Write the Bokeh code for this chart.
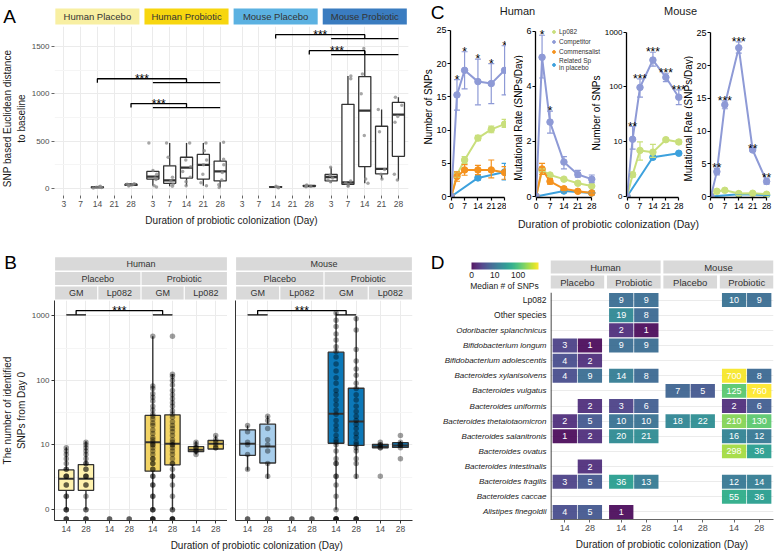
import numpy as np
from bokeh.plotting import figure
from bokeh.models import (ColumnDataSource, FixedTicker, Range1d, FactorRange, Legend,
                          LegendItem, Whisker, TeeHead, ColorBar, LinearColorMapper,
                          SingleIntervalTicker, Span)
from bokeh.layouts import row, column
from bokeh.embed import file_html
from bokeh.resources import INLINE
from bokeh.core.properties import value
from bokeh.transform import jitter, transform
from bokeh.palettes import Viridis256

# ======================= DATA =======================
# ---- Panel A: SNP based Euclidean distance to baseline ----
a_groups = ["Human Placebo", "Human Probiotic", "Mouse Placebo", "Mouse Probiotic"]
a_days = ["3", "7", "14", "21", "28"]
a_box_group = ["Human Placebo"] * 2 + ["Human Probiotic"] * 5 + ["Mouse Placebo"] * 2 + ["Mouse Probiotic"] * 5
a_box_day = ["14", "28"] + a_days + ["14", "28"] + a_days
a_box_lo = [5, 25, 30, 25, 30, 30, 10, 8, 18, 60, 20, 55, 100, 85]
a_box_q1 = [9, 32, 100, 55, 110, 100, 80, 12, 22, 80, 45, 232, 155, 340]
a_box_med = [13, 40, 125, 85, 220, 250, 180, 16, 26, 120, 65, 823, 208, 780]
a_box_q3 = [18, 46, 180, 240, 330, 360, 290, 20, 32, 148, 890, 1183, 658, 910]
a_box_hi = [24, 52, 190, 480, 480, 480, 490, 24, 36, 225, 1190, 1457, 835, 964]

a_pt_hpla_14 = [5, 10, 14, 18, 24]
a_pt_hpla_28 = [26, 34, 40, 44, 50]
a_pt_hpro_3 = [480, 190, 150, 110, 95, 30, 15]
a_pt_hpro_7 = [480, 330, 120, 80, 45, 25]
a_pt_hpro_14 = [480, 300, 230, 180, 120, 70, 30]
a_pt_hpro_21 = [480, 400, 300, 250, 150, 60, 30]
a_pt_hpro_28 = [490, 310, 250, 170, 90, 40, 10]
a_pt_mpla_14 = [8, 14, 18, 24]
a_pt_mpla_28 = [18, 24, 28, 36]
a_pt_mpro_3 = [225, 140, 110, 90, 70]
a_pt_mpro_7 = [1190, 1160, 80, 60, 40, 25]
a_pt_mpro_14 = [1480, 1210, 1000, 560, 100, 55]
a_pt_mpro_21 = [835, 600, 200, 150, 100]
a_pt_mpro_28 = [965, 880, 760, 700, 150, 90]

a_cmp_left = [("Human Placebo", "14"), ("Human Placebo", "28"), ("Mouse Placebo", "14"), ("Mouse Placebo", "28")]
a_cmp_right = ["Human Probiotic", "Human Probiotic", "Mouse Probiotic", "Mouse Probiotic"]
a_cmp_y = [1160, 897, 1626, 1457]
a_cmp_label = ["***", "***", "***", "***"]

# ---- Panel B: number of identified SNPs from day 0 ----
b_species = ["Human", "Mouse"]
b_arms = ["Placebo", "Probiotic"]
b_targets = ["GM", "Lp082"]
b_days = ["14", "28"]
b_box_species = ["Human"] * 6 + ["Mouse"] * 6
b_box_arm = ["Placebo", "Placebo", "Probiotic", "Probiotic", "Probiotic", "Probiotic"] * 2
b_box_target = ["GM", "GM", "GM", "GM", "Lp082", "Lp082"] * 2
b_box_day = ["14", "28"] * 6
b_box_lo = [0, 0, 0, 0, 7.0, 8.6, 3.8, 2.7, 0, 2.7, 9.0, 9.1]
b_box_q1 = [1.5, 1.5, 3.7, 4.75, 7.8, 8.6, 6.8, 5.1, 10.6, 9.8, 9.0, 9.1]
b_box_med = [2.7, 2.7, 11.0, 10.4, 8.4, 10.4, 10.4, 9.4, 30.4, 23.1, 9.4, 9.8]
b_box_q3 = [3.9, 4.8, 28.7, 29.4, 9.4, 11.7, 17.2, 21.0, 273, 75.7, 10.2, 10.8]
b_box_hi = [9.2, 11.4, 481, 126, 11.4, 14.0, 20.0, 28.3, 1132, 982, 10.6, 11.5]

# None = no SNP detected (drawn on the axis floor)
b_pts_h_pla_gm_14 = [None, None, None, 0, 0, 0, 1, 1, 2, 2, 3, 3, 3, 4, 4, 5, 6, 7, 8, 9]
b_pts_h_pla_gm_28 = [None, None, None, 0, 0, 1, 2, 2, 3, 3, 3, 4, 4, 5, 5, 6, 7, 8, 9, 10, 11]
b_pts_h_pla_lp_14 = [None, None]
b_pts_h_pla_lp_28 = [None, None]
b_pts_h_pro_gm_14 = [None] * 4 + [0, 0, 0, 1, 1, 2, 2, 3, 3, 4, 4, 5, 5, 6, 6, 7, 8, 9, 10, 10, 11, 12, 13,
                                  15, 17, 20, 22, 25, 28, 30, 35, 40, 48, 55, 62, 75, 82, 480]
b_pts_h_pro_gm_28 = [None] * 4 + [0, 0, 1, 2, 3, 3, 4, 5, 5, 6, 7, 8, 9, 10, 10, 11, 12, 14, 16, 18, 20, 23,
                                  27, 30, 34, 40, 45, 52, 60, 70, 85, 100, 115, 125, 480]
b_pts_h_pro_lp_14 = [7, 8, 8, 9, 9, 10, 11]
b_pts_h_pro_lp_28 = [9, 9, 10, 11, 12, 14]
b_pts_m_pla_gm_14 = [None, None, 4, 7, 10, 11, 16, 20]
b_pts_m_pla_gm_28 = [None, None, 3, 5, 8, 10, 12, 18, 24, 28]
b_pts_m_pla_lp_14 = [None, None]
b_pts_m_pla_lp_28 = [None, None]
b_pts_m_pro_gm_14 = [None] * 5 + [0, 1, 2, 3, 3, 5, 5, 6, 8, 10, 11, 12, 14, 17, 20, 24, 30, 35, 42, 50, 60,
                                  70, 90, 110, 140, 180, 230, 280, 330, 420, 520, 680, 850, 1100]
b_pts_m_pro_gm_28 = [None] * 4 + [3, 5, 6, 8, 9, 10, 11, 13, 15, 18, 21, 24, 28, 33, 40, 50, 60, 75, 90, 120,
                                  150, 200, 300, 600, 900]
b_pts_m_pro_lp_14 = [3, 9, 9, 10, 10, 11]
b_pts_m_pro_lp_28 = [6, 9, 10, 10, 11, 14]

# ---- Panel C ----
c_days = [0, 3, 7, 14, 21, 28]
rel_days = [0, 14, 28]
# Human: number of SNPs
h_n_comp = [0, 15.3, 19.0, 17.3, 17.0, 19.0]
h_n_comp_lo = [0, 13.0, 16.2, 13.8, 14.0, 15.3]
h_n_comp_hi = [0, 17.6, 21.8, 20.7, 20.0, 22.7]
h_n_lp = [0, 3.3, 5.5, 8.8, 10.1, 10.9]
h_n_lp_lo = [0, 2.9, 5.0, 8.4, 9.6, 10.4]
h_n_lp_hi = [0, 3.7, 6.0, 9.2, 10.6, 11.6]
h_n_com = [0, 3.0, 4.0, 4.0, 4.0, 3.6]
h_n_com_lo = [0, 2.3, 3.2, 3.3, 2.8, 2.6]
h_n_com_hi = [0, 3.7, 4.8, 4.7, 5.5, 4.5]
h_n_rel = [0, 2.8, 3.7]
h_n_rel_lo = [0, 2.5, 2.5]
h_n_rel_hi = [0, 3.1, 5.0]
h_n_stars = ["", "*", "*", "*", "*", "*"]
# Human: mutational rate
h_r_comp = [0, 5.05, 2.7, 1.25, 0.8, 0.63]
h_r_comp_lo = [0, 4.3, 2.3, 1.0, 0.7, 0.5]
h_r_comp_hi = [0, 5.85, 3.1, 1.45, 0.95, 0.78]
h_r_lp = [0, 0.95, 0.78, 0.63, 0.48, 0.38]
h_r_lp_lo = [0, 0.9, 0.73, 0.58, 0.44, 0.34]
h_r_lp_hi = [0, 1.0, 0.83, 0.68, 0.52, 0.42]
h_r_com = [0, 1.0, 0.55, 0.28, 0.19, 0.13]
h_r_com_lo = [0, 0.8, 0.45, 0.22, 0.15, 0.1]
h_r_com_hi = [0, 1.2, 0.65, 0.34, 0.23, 0.16]
h_r_rel = [0, 0.2, 0.13]
h_r_stars = ["", "*", "*", "", "", ""]
# Mouse: number of SNPs
m_n_comp = [0, 11, 98, 310, 150, 65]
m_n_comp_lo = [0, 7.2, 65, 239, 125, 47.7]
m_n_comp_hi = [0, 18.9, 140, 430, 178, 88.5]
m_n_lp = [0, 2.1, 6.8, 6.3, 10.8, 9.8]
m_n_lp_lo = [0, 1.8, 4.4, 5.0, 10.2, 9.0]
m_n_lp_hi = [0, 2.4, 9.8, 8.8, 11.5, 10.6]
m_n_rel = [0, 5.0, 6.0]
m_n_stars = ["", "**", "***", "***", "***", "***"]
# Mouse: mutational rate
m_r_comp = [0, 3.8, 14.0, 22.7, 7.1, 2.3]
m_r_comp_lo = [0, 3.3, 13.4, 21.9, 6.9, 1.9]
m_r_comp_hi = [0, 4.3, 14.6, 23.6, 7.3, 2.8]
m_r_lp = [0, 0.8, 0.95, 0.45, 0.5, 0.35]
m_r_rel = [0, 0.35, 0.2]
m_r_stars = ["", "**", "***", "***", "**", "**"]

# ---- Panel D: median # of SNPs per species ----
d_species = ["Lp082", "Other species", "Odoribacter splanchnicus", "Bifidobacterium longum",
             "Bifidobacterium adolescentis", "Bacteroides xylanisolvens", "Bacteroides vulgatus",
             "Bacteroides uniformis", "Bacteroides thetaiotaomicron", "Bacteroides salanitronis",
             "Bacteroides ovatus", "Bacteroides intestinalis", "Bacteroides fragilis",
             "Bacteroides caccae", "Alistipes finegoldii"]
d_italic = [False, False] + [True] * 13
d_groups = [("Human", "Placebo"), ("Human", "Probiotic"), ("Mouse", "Placebo"), ("Mouse", "Probiotic")]
d_days = ["14", "28"]
d_hpla_14 = {"Bifidobacterium longum": 3, "Bifidobacterium adolescentis": 4, "Bacteroides xylanisolvens": 4,
             "Bacteroides thetaiotaomicron": 2, "Bacteroides salanitronis": 1, "Bacteroides fragilis": 3,
             "Alistipes finegoldii": 4}
d_hpla_28 = {"Bifidobacterium longum": 1, "Bifidobacterium adolescentis": 2, "Bacteroides xylanisolvens": 9,
             "Bacteroides uniformis": 2, "Bacteroides thetaiotaomicron": 5, "Bacteroides salanitronis": 2,
             "Bacteroides intestinalis": 2, "Bacteroides fragilis": 5, "Alistipes finegoldii": 5}
d_hpro_14 = {"Lp082": 9, "Other species": 19, "Odoribacter splanchnicus": 2, "Bifidobacterium longum": 9,
             "Bacteroides xylanisolvens": 14, "Bacteroides uniformis": 3, "Bacteroides thetaiotaomicron": 10,
             "Bacteroides salanitronis": 20, "Bacteroides fragilis": 36, "Alistipes finegoldii": 1}
d_hpro_28 = {"Lp082": 9, "Other species": 8, "Odoribacter splanchnicus": 1, "Bifidobacterium longum": 9,
             "Bacteroides xylanisolvens": 8, "Bacteroides uniformis": 6, "Bacteroides thetaiotaomicron": 10,
             "Bacteroides salanitronis": 21, "Bacteroides fragilis": 13}
d_mpla_14 = {"Bacteroides vulgatus": 7, "Bacteroides thetaiotaomicron": 18}
d_mpla_28 = {"Bacteroides vulgatus": 5, "Bacteroides thetaiotaomicron": 22}
d_mpro_14 = {"Lp082": 10, "Bacteroides xylanisolvens": 700, "Bacteroides vulgatus": 125,
             "Bacteroides uniformis": 2, "Bacteroides thetaiotaomicron": 210, "Bacteroides salanitronis": 16,
             "Bacteroides ovatus": 298, "Bacteroides fragilis": 12, "Bacteroides caccae": 55}
d_mpro_28 = {"Lp082": 9, "Bacteroides xylanisolvens": 8, "Bacteroides vulgatus": 760,
             "Bacteroides uniformis": 6, "Bacteroides thetaiotaomicron": 130, "Bacteroides salanitronis": 12,
             "Bacteroides ovatus": 36, "Bacteroides fragilis": 14, "Bacteroides caccae": 36}

# ======================= HELPERS =======================
FONT = "Liberation Sans"
TXT = "#1a1a1a"
GRID = "#EBEBEB"
DARK = "#333333"


def plog(v):
    return np.arcsinh(np.asarray(v, dtype=float) / 2.0) / np.log(10)


def ident(v):
    return np.asarray(v, dtype=float)


def new_fig(w, h, xr, yr, left=0, right=0, top=0, bottom=0, **kw):
    p = figure(width=w, height=h, x_range=xr, y_range=yr, output_backend="svg",
               toolbar_location=None, min_border_left=left, min_border_right=right,
               min_border_top=top, min_border_bottom=bottom, **kw)
    p.outline_line_color = None
    p.border_fill_color = "white"
    p.background_fill_color = "white"
    return p


def blank_fig(w, h):
    p = new_fig(w, h, Range1d(0, w), Range1d(0, h), x_axis_location=None, y_axis_location=None)
    p.grid.visible = False
    return p


def add_text(p, xs, ys, texts, size, color=TXT, align="center", baseline="middle",
             style="normal", x_offset=0, y_offset=0, angle=0.0):
    keep = [i for i, t in enumerate(texts) if t != ""]
    xs, ys, texts = list(xs), list(ys), list(texts)
    src = ColumnDataSource(dict(x=[xs[i] for i in keep], y=[ys[i] for i in keep],
                                t=[texts[i] for i in keep]))
    return p.text(x="x", y="y", text="t", source=src, text_font=value(FONT), text_font_size=size,
                  text_color=color, text_align=align, text_baseline=baseline,
                  text_font_style=style, x_offset=x_offset, y_offset=y_offset, angle=angle)


def style_axis(ax, size="9px", color="#4d4d4d", tick_color=DARK, line_color=None, tick_out=3):
    ax.major_label_text_font = FONT
    ax.major_label_text_font_size = size
    ax.major_label_text_color = color
    ax.axis_label_text_font = FONT
    ax.axis_label_text_font_style = "normal"
    ax.axis_label_text_font_size = "10px"
    ax.axis_label_text_color = TXT
    ax.axis_label_standoff = 3
    ax.major_label_standoff = 2
    ax.minor_tick_line_color = None
    ax.major_tick_in = 0
    ax.major_tick_out = tick_out
    ax.major_tick_line_color = tick_color
    ax.axis_line_color = line_color


VERT = np.pi / 2

# ======================= LEFT TITLE STRIP (letters + y titles of A and B) =======================
ltitle = blank_fig(28, 552)      # y = 552 - page-y
add_text(ltitle, [9], [536], ["A"], "19px", color="black")
add_text(ltitle, [7, 21], [434, 434], ["SNP based Euclidean distance", "to baseline"], "10px", angle=VERT)
add_text(ltitle, [10], [290], ["B"], "19px", color="black")
add_text(ltitle, [7, 21], [142, 142], ["The number of identified", "SNPs from Day 0"], "10px", angle=VERT)

# ======================= PANEL A =======================
a_pos = {(g, d): gi * 53 + di * 10 for gi, g in enumerate(a_groups) for di, d in enumerate(a_days)}
xA = Range1d(-5.5, 205)
A_COLORS = ["#F8EFA2", "#F7D60F", "#5BB1E1", "#3A7CC0"]

stripA = new_fig(385, 26, xA, Range1d(0, 26), left=22, right=5,
                 x_axis_location=None, y_axis_location=None)
stripA.grid.visible = False
stripA.quad(left=[gi * 53 - 5.0 for gi in range(4)], right=[gi * 53 + 45.0 for gi in range(4)],
            bottom=2, top=18, fill_color=A_COLORS, line_color=None)
add_text(stripA, [gi * 53 + 20 for gi in range(4)], [10] * 4, a_groups, "9.5px", color=DARK)

figA = new_fig(385, 204, xA, Range1d(-74, 1712), left=22, right=5, top=0, bottom=35)
tick_pos = sorted(a_pos.values())
style_axis(figA.xaxis[0], size="8.5px", color="#4d4d4d", tick_color="#666")
style_axis(figA.yaxis[0], size="8px", color="#4d4d4d", tick_color="#666")
figA.yaxis.major_label_standoff = 1
figA.xaxis.ticker = FixedTicker(ticks=tick_pos)
figA.xaxis.major_label_overrides = {a_pos[k]: k[1] for k in a_pos}
figA.xaxis.axis_label = "Duration of probiotic colonization (Day)"
figA.xaxis.axis_label_standoff = 5
figA.yaxis.ticker = SingleIntervalTicker(interval=500, num_minor_ticks=2)
figA.xgrid.grid_line_color = GRID
figA.ygrid.grid_line_color = GRID
figA.ygrid.minor_grid_line_color = "#F5F5F5"

srcA = ColumnDataSource(dict(x=[a_pos[(g, d)] for g, d in zip(a_box_group, a_box_day)],
                             lo=a_box_lo, q1=a_box_q1, med=a_box_med, q3=a_box_q3, hi=a_box_hi))
srcA.data["xl"] = [x - 3.6 for x in srcA.data["x"]]
srcA.data["xr"] = [x + 3.6 for x in srcA.data["x"]]
figA.segment(x0="x", y0="lo", x1="x", y1="q1", source=srcA, line_color=DARK, line_width=1.3)
figA.segment(x0="x", y0="q3", x1="x", y1="hi", source=srcA, line_color=DARK, line_width=1.3)
figA.vbar(x="x", width=7.2, bottom="q1", top="q3", source=srcA, fill_color="white",
          line_color=DARK, line_width=1.3)
figA.segment(x0="xl", y0="med", x1="xr", y1="med", source=srcA, line_color=DARK, line_width=2.2)

a_pt_sets = [("Human Placebo", "14", a_pt_hpla_14), ("Human Placebo", "28", a_pt_hpla_28),
             ("Human Probiotic", "3", a_pt_hpro_3), ("Human Probiotic", "7", a_pt_hpro_7),
             ("Human Probiotic", "14", a_pt_hpro_14), ("Human Probiotic", "21", a_pt_hpro_21),
             ("Human Probiotic", "28", a_pt_hpro_28), ("Mouse Placebo", "14", a_pt_mpla_14),
             ("Mouse Placebo", "28", a_pt_mpla_28), ("Mouse Probiotic", "3", a_pt_mpro_3),
             ("Mouse Probiotic", "7", a_pt_mpro_7), ("Mouse Probiotic", "14", a_pt_mpro_14),
             ("Mouse Probiotic", "21", a_pt_mpro_21), ("Mouse Probiotic", "28", a_pt_mpro_28)]
apx, apy = [], []
for g, d, vals in a_pt_sets:
    apx += [a_pos[(g, d)]] * len(vals)
    apy += vals
figA.scatter(x=jitter("x", width=5, distribution="uniform"), y="y",
             source=ColumnDataSource(dict(x=apx, y=apy)), size=3.5, fill_color="#8a8a8a",
             line_color=None, fill_alpha=0.75)

bxs, bys, lx, ly = [], [], [], []
for (lg, ld), rg, yv in zip(a_cmp_left, a_cmp_right, a_cmp_y):
    xl = a_pos[(lg, ld)]
    xm = a_pos[(rg, "14")]
    drop = 42
    bxs += [[xl, xl, xm, xm], [a_pos[(rg, "3")], a_pos[(rg, "28")]]]
    bys += [[yv - drop, yv, yv, yv - drop], [yv - drop, yv - drop]]
    lx.append((xl + xm) / 2)
    ly.append(yv)
figA.multi_line(xs=bxs, ys=bys, line_color="black", line_width=1.3)
add_text(figA, lx, ly, a_cmp_label, "12px", color="black", baseline="alphabetic")

# ======================= PANEL B =======================
b_sub = [("Placebo", "GM"), ("Placebo", "Lp082"), ("Probiotic", "GM"), ("Probiotic", "Lp082")]


def b_x(arm, tgt, day):
    return 22 * b_sub.index((arm, tgt)) + 6 + 10 * b_days.index(day)


B_FILL = {("Human", "Placebo"): "#FFF2AE", ("Human", "Probiotic"): "#F3D465",
          ("Mouse", "Placebo"): "#A7CDEB", ("Mouse", "Probiotic"): "#0C78B8"}
B_FLOOR = -0.14
b_ticks = [round(float(t), 4) for t in plog([0, 10, 100, 1000])]
b_tick_labels = ["0", "10", "100", "1000"]

b_pt_sets = [("Human", "Placebo", "GM", "14", b_pts_h_pla_gm_14), ("Human", "Placebo", "GM", "28", b_pts_h_pla_gm_28),
             ("Human", "Placebo", "Lp082", "14", b_pts_h_pla_lp_14), ("Human", "Placebo", "Lp082", "28", b_pts_h_pla_lp_28),
             ("Human", "Probiotic", "GM", "14", b_pts_h_pro_gm_14), ("Human", "Probiotic", "GM", "28", b_pts_h_pro_gm_28),
             ("Human", "Probiotic", "Lp082", "14", b_pts_h_pro_lp_14), ("Human", "Probiotic", "Lp082", "28", b_pts_h_pro_lp_28),
             ("Mouse", "Placebo", "GM", "14", b_pts_m_pla_gm_14), ("Mouse", "Placebo", "GM", "28", b_pts_m_pla_gm_28),
             ("Mouse", "Placebo", "Lp082", "14", b_pts_m_pla_lp_14), ("Mouse", "Placebo", "Lp082", "28", b_pts_m_pla_lp_28),
             ("Mouse", "Probiotic", "GM", "14", b_pts_m_pro_gm_14), ("Mouse", "Probiotic", "GM", "28", b_pts_m_pro_gm_28),
             ("Mouse", "Probiotic", "Lp082", "14", b_pts_m_pro_lp_14), ("Mouse", "Probiotic", "Lp082", "28", b_pts_m_pro_lp_28)]


def make_b(species, width, left, right):
    xr = Range1d(0, 88)
    strip = new_fig(width, 70, xr, Range1d(0, 70), left=left, right=right,
                    x_axis_location=None, y_axis_location=None)
    strip.grid.visible = False
    ql, qr, qb, qt, tx, ty, tt = [], [], [], [], [], [], []
    ql.append(0.3); qr.append(87.7); qb.append(30); qt.append(43.3)
    tx.append(44); ty.append(36.6); tt.append(species)
    for ai, arm in enumerate(b_arms):
        ql.append(44 * ai + 0.3); qr.append(44 * ai + 43.7); qb.append(15.5); qt.append(28.5)
        tx.append(44 * ai + 22); ty.append(22); tt.append(arm)
        for ti, tg in enumerate(b_targets):
            k = ai * 2 + ti
            ql.append(22 * k + 0.3); qr.append(22 * k + 21.7); qb.append(1); qt.append(14)
            tx.append(22 * k + 11); ty.append(7.5); tt.append(tg)
    strip.quad(left=ql, right=qr, bottom=qb, top=qt, fill_color="#D9D9D9", line_color=None)
    add_text(strip, tx, ty, tt, "9px", color=DARK)

    p = new_fig(width, 236, xr, Range1d(-0.165, 3.235), left=left, right=right, top=0, bottom=16)
    xa, ya = p.xaxis[0], p.yaxis[0]
    style_axis(xa, size="8.5px", color="#4d4d4d", tick_color=DARK, line_color=DARK)
    style_axis(ya, size="8px", color="#4d4d4d", tick_color=DARK, line_color=DARK)
    xa.major_label_standoff = 2
    ya.major_label_standoff = 1
    tpos = [22 * k + 6 + 10 * j for k in range(4) for j in range(2)]
    xa.ticker = FixedTicker(ticks=tpos)
    xa.major_label_overrides = {t: b_days[i % 2] for i, t in enumerate(tpos)}
    grid_ticker = FixedTicker(ticks=b_ticks, minor_ticks=[0.5, 1.5, 2.5])
    if species == "Human":
        ya.ticker = FixedTicker(ticks=b_ticks, minor_ticks=[0.5, 1.5, 2.5])
        ya.major_label_overrides = dict(zip(b_ticks, b_tick_labels))
    else:
        ya.ticker = FixedTicker(ticks=[])
        ya.major_tick_out = 0
    p.ygrid.ticker = grid_ticker
    p.xgrid.grid_line_color = GRID
    p.ygrid.grid_line_color = GRID
    p.ygrid.minor_grid_line_color = "#F5F5F5"

    idx = [i for i, s in enumerate(b_box_species) if s == species]
    xs = [b_x(b_box_arm[i], b_box_target[i], b_box_day[i]) for i in idx]
    src = ColumnDataSource(dict(
        x=xs, xl=[x - 3.9 for x in xs], xr=[x + 3.9 for x in xs],
        lo=plog([b_box_lo[i] for i in idx]), q1=plog([b_box_q1[i] for i in idx]),
        med=plog([b_box_med[i] for i in idx]), q3=plog([b_box_q3[i] for i in idx]),
        hi=plog([b_box_hi[i] for i in idx]),
        fill=[B_FILL[(species, b_box_arm[i])] for i in idx]))
    p.segment(x0="x", y0="lo", x1="x", y1="q1", source=src, line_color=DARK, line_width=1.4)
    p.segment(x0="x", y0="q3", x1="x", y1="hi", source=src, line_color=DARK, line_width=1.4)
    p.vbar(x="x", width=7.8, bottom="q1", top="q3", source=src, fill_color="fill",
           line_color=DARK, line_width=1.3)
    p.segment(x0="xl", y0="med", x1="xr", y1="med", source=src, line_color=DARK, line_width=2)

    px, py = [], []
    for sp, arm, tg, day, vals in b_pt_sets:
        if sp != species:
            continue
        for v in vals:
            px.append(b_x(arm, tg, day))
            py.append(B_FLOOR if v is None else float(plog(v)))
    p.scatter(x="x", y="y", source=ColumnDataSource(dict(x=px, y=py)), size=5.5,
              fill_color="black", line_color=None, fill_alpha=0.38)

    # significance bracket Placebo GM vs Probiotic GM
    lo_y, hi_y = 3.014, 3.08
    gl = [b_x("Placebo", "GM", d) for d in b_days]
    gr = [b_x("Probiotic", "GM", d) for d in b_days]
    ml, mr = sum(gl) / 2, sum(gr) / 2
    p.multi_line(xs=[gl, [ml, ml, mr, mr], gr], ys=[[lo_y, lo_y], [lo_y, hi_y, hi_y, lo_y], [lo_y, lo_y]],
                 line_color="black", line_width=1.3)
    add_text(p, [(ml + mr) / 2], [hi_y], ["***"], "12px", color="black", baseline="alphabetic")
    return strip, p


stripBh, figBh = make_b("Human", 199, 23, 0)
stripBm, figBm = make_b("Mouse", 186, 8, 1)

titleB = blank_fig(385, 16)
add_text(titleB, [220], [7], ["Duration of probiotic colonization (Day)"], "10px")

# ======================= PANEL C =======================
C_COL = {"Lp082": "#C9DF7C", "Competitor": "#8E9AD6", "Commensalist": "#F5921E", "Related": "#3DA1DD"}


def c_panel(width, left, xr, yr, yticks, ylabels, ybound, series, star_src, tf, ysize="9px"):
    p = new_fig(width, 189, Range1d(*xr), Range1d(*yr), left=left, right=0, top=0, bottom=16)
    p.grid.visible = False
    xa, ya = p.xaxis[0], p.yaxis[0]
    style_axis(xa, size="8.5px", color="black", tick_color="black", line_color="black")
    style_axis(ya, size=ysize, color="black", tick_color="black", line_color="black")
    for ax in (xa, ya):
        ax.axis_line_width = 1.3
        ax.major_tick_line_width = 1.2
    ya.major_label_standoff = 1
    xa.ticker = FixedTicker(ticks=[0, 7, 14, 21, 28])
    xa.bounds = (0, 28)
    ya.ticker = FixedTicker(ticks=yticks)
    ya.bounds = ybound
    if ylabels:
        ya.major_label_overrides = dict(zip(yticks, ylabels))
    rends = {}
    for name, d, v, lo, hi in series:
        src = ColumnDataSource(dict(x=d, y=tf(v), lo=tf(lo), hi=tf(hi)))
        col = C_COL[name]
        p.line(x="x", y="y", source=src, line_color=col, line_width=2)
        p.add_layout(Whisker(source=src, base="x", upper="hi", lower="lo", line_color=col,
                             line_width=1.2, level="glyph",
                             upper_head=TeeHead(size=6, line_color=col, line_width=1.2),
                             lower_head=TeeHead(size=6, line_color=col, line_width=1.2)))
        rends[name] = p.scatter(x="x", y="y", source=src, size=6.5, fill_color=col, line_color=col)
    hi_vals, stars = star_src
    add_text(p, c_days, tf(hi_vals), stars, "12px", color="black", baseline="alphabetic")
    return p, rends


c1, _ = c_panel(73, 15, (-0.4, 29.0), (-0.15, 25.9), [0, 5, 10, 15, 20, 25], None, (0, 25),
                [("Related", rel_days, h_n_rel, h_n_rel_lo, h_n_rel_hi),
                 ("Lp082", c_days, h_n_lp, h_n_lp_lo, h_n_lp_hi),
                 ("Commensalist", c_days, h_n_com, h_n_com_lo, h_n_com_hi),
                 ("Competitor", c_days, h_n_comp, h_n_comp_lo, h_n_comp_hi)],
                (h_n_comp_hi, h_n_stars), ident)
c2, r2 = c_panel(78, 10, (-0.3, 32.9), (-0.036, 6.24), [0, 2, 4, 6], None, (0, 6),
                 [("Related", rel_days, h_r_rel, h_r_rel, h_r_rel),
                  ("Lp082", c_days, h_r_lp, h_r_lp_lo, h_r_lp_hi),
                  ("Commensalist", c_days, h_r_com, h_r_com_lo, h_r_com_hi),
                  ("Competitor", c_days, h_r_comp, h_r_comp_lo, h_r_comp_hi)],
                 (h_r_comp_hi, h_r_stars), ident)
c_log_ticks = [round(float(t), 4) for t in plog([0, 10, 100, 1000])]
c3, _ = c_panel(92, 22, (-0.3, 35.97), (-0.018, 3.14), c_log_ticks, ["0", "10", "100", "1000"], (0, 3.0),
                [("Related", rel_days, m_n_rel, m_n_rel, m_n_rel),
                 ("Lp082", c_days, m_n_lp, m_n_lp_lo, m_n_lp_hi),
                 ("Competitor", c_days, m_n_comp, m_n_comp_lo, m_n_comp_hi)],
                (m_n_comp_hi, m_n_stars), plog, ysize="8px")
c4, _ = c_panel(83, 15, (-0.2, 32.97), (-0.15, 26.26), [0, 5, 10, 15, 20, 25], None, (0, 25),
                [("Related", rel_days, m_r_rel, m_r_rel, m_r_rel),
                 ("Lp082", c_days, m_r_lp, m_r_lp, m_r_lp),
                 ("Competitor", c_days, m_r_comp, m_r_comp_lo, m_r_comp_hi)],
                (m_r_comp_hi, m_r_stars), ident)

# y-axis titles of panel C (the mouse titles sit in the free space right of the neighbouring plot)
t1 = blank_fig(20, 189)
add_text(t1, [15], [99], ["Number of SNPs"], "10px", color="black", angle=VERT)
t2 = blank_fig(17, 189)
add_text(t2, [12], [87], ["Mutational Rate (SNPs/Day)"], "10px", color="black", angle=VERT)
add_text(c2, [30.4], [3.03], ["Number of SNPs"], "10px", color="black", angle=VERT)
add_text(c3, [33.4], [1.42], ["Mutational Rate (SNPs/Day)"], "10px", color="black", angle=VERT)

legend = Legend(items=[LegendItem(label="Lp082", renderers=[r2["Lp082"]]),
                       LegendItem(label="Competitor", renderers=[r2["Competitor"]]),
                       LegendItem(label="Commensalist", renderers=[r2["Commensalist"]]),
                       LegendItem(label="Related Sp\nin placebo", renderers=[r2["Related"]])],
                location=(15, 126), label_text_font=FONT, label_text_font_size="6.5px",
                label_text_color=DARK, glyph_height=9, glyph_width=7, label_height=9,
                label_standoff=2, spacing=1, padding=0, margin=0,
                border_line_color=None, background_fill_alpha=0)
c2.add_layout(legend)

ctop = blank_fig(363, 24)
add_text(ctop, [24], [12], ["C"], "19px", color="black")
add_text(ctop, [104, 267], [14, 14], ["Human", "Mouse"], "11px", color=TXT)

titleC = blank_fig(363, 19)
add_text(titleC, [195], [9], ["Duration of probiotic colonization (Day)"], "10.5px", color=TXT)

# ======================= PANEL D =======================
D_STRIDE = 22.5
d_cols = [(d_hpla_14, 0, 0), (d_hpla_28, 0, 1), (d_hpro_14, 1, 0), (d_hpro_28, 1, 1),
          (d_mpla_14, 2, 0), (d_mpla_28, 2, 1), (d_mpro_14, 3, 0), (d_mpro_28, 3, 1)]
mapper = LinearColorMapper(palette=Viridis256, low=0, high=float(np.log10(760)))
xD = Range1d(-5.7, 3 * D_STRIDE + 10 + 5.7)
yD = FactorRange(factors=list(reversed(d_species)), range_padding=0)

hx, hy, hv = [], [], []
for cells, gi, di in d_cols:
    for sp, v in cells.items():
        hx.append(gi * D_STRIDE + 10 * di)
        hy.append(sp)
        hv.append(v)
srcD = ColumnDataSource(dict(x=hx, y=hy, v=hv, u=np.log10(np.asarray(hv, float)),
                             lab=[str(v) for v in hv]))

heat = new_fig(228, 262, xD, yD, left=2, right=3, top=2, bottom=33, y_axis_location=None)
xa = heat.xaxis[0]
style_axis(xa, size="9px", color="#4d4d4d", tick_color="#666", line_color="#666")
dt = [gi * D_STRIDE + 10 * di for gi in range(4) for di in range(2)]
xa.ticker = FixedTicker(ticks=dt)
xa.major_label_overrides = {t: d_days[i % 2] for i, t in enumerate(dt)}
xa.axis_label = "Duration of probiotic colonization (Day)"
xa.axis_label_standoff = 5
heat.xgrid.grid_line_color = None
heat.ygrid.grid_line_color = GRID
heat.add_layout(Span(location=-5.5, dimension="height", line_color=DARK, line_width=1.2))
heat.rect(x="x", y="y", width=9.7, height=0.92, source=srcD,
          fill_color=transform("u", mapper), fill_alpha=0.9, line_color=None)
heat.text(x="x", y="y", text="lab", source=srcD, text_font=value(FONT), text_font_size="9px",
          text_color="white", text_align="center", text_baseline="middle")

labfig = new_fig(135, 262, Range1d(0, 1), yD, left=0, right=0, top=2, bottom=33,
                 x_axis_location=None, y_axis_location=None)
labfig.grid.visible = False
sp_norm = [s for s, it in zip(d_species, d_italic) if not it]
sp_ital = [s for s, it in zip(d_species, d_italic) if it]
add_text(labfig, [1] * len(sp_norm), sp_norm, sp_norm, "8.5px", color=TXT, align="right", x_offset=-2)
add_text(labfig, [1] * len(sp_ital), sp_ital, sp_ital, "8px", color=TXT, align="right",
         style="italic", x_offset=-2)

dstrip = new_fig(228, 58, xD, Range1d(0, 58), left=2, right=3, top=0, bottom=0,
                 x_axis_location=None, y_axis_location=None)
dstrip.grid.visible = False
ql, qr, qb, qt, tx, ty, tt = [], [], [], [], [], [], []
pw = D_STRIDE - 1.1
for hi_, host in enumerate(["Human", "Mouse"]):
    l0 = hi_ * 2 * D_STRIDE - 5.7
    ql.append(l0); qr.append(l0 + D_STRIDE + pw); qb.append(17); qt.append(30)
    tx.append(l0 + (D_STRIDE + pw) / 2); ty.append(23.5); tt.append(host)
for gi, (host, arm) in enumerate(d_groups):
    l0 = gi * D_STRIDE - 5.7
    ql.append(l0); qr.append(l0 + pw); qb.append(2); qt.append(15)
    tx.append(l0 + pw / 2); ty.append(8.5); tt.append(arm)
dstrip.quad(left=ql, right=qr, bottom=qb, top=qt, fill_color="#D9D9D9", line_color=None)
add_text(dstrip, tx, ty, tt, "9.5px", color=DARK)

cbfig = blank_fig(135, 58)
add_text(cbfig, [24], [28], ["D"], "19px", color="black")
add_text(cbfig, [91], [4.5], ["Median # of SNPs"], "8.5px", color=TXT)
cbar = ColorBar(color_mapper=mapper, orientation="horizontal", location=(58, 10), width=67, height=7,
                padding=0, ticker=FixedTicker(ticks=[0, 1, 2]),
                major_label_overrides={0: "0", 1: "10", 2: "100"},
                major_label_text_font=FONT, major_label_text_font_size="8.5px",
                major_label_text_color=TXT, label_standoff=2,
                major_tick_line_color=None, bar_line_color=None, scale_alpha=0.9,
                background_fill_alpha=0, border_line_color=None)
cbfig.add_layout(cbar)

# ======================= LAYOUT =======================
main_left = column(stripA, figA, row(column(stripBh, figBh), column(stripBm, figBm)), titleB)
left_col = row(ltitle, main_left)
right_col = column(ctop, row(t1, c1, t2, c2, c3, c4), titleC, row(cbfig, dstrip), row(labfig, heat))
root = row(left_col, right_col)

open("out.html", "w").write(file_html(root, INLINE))
